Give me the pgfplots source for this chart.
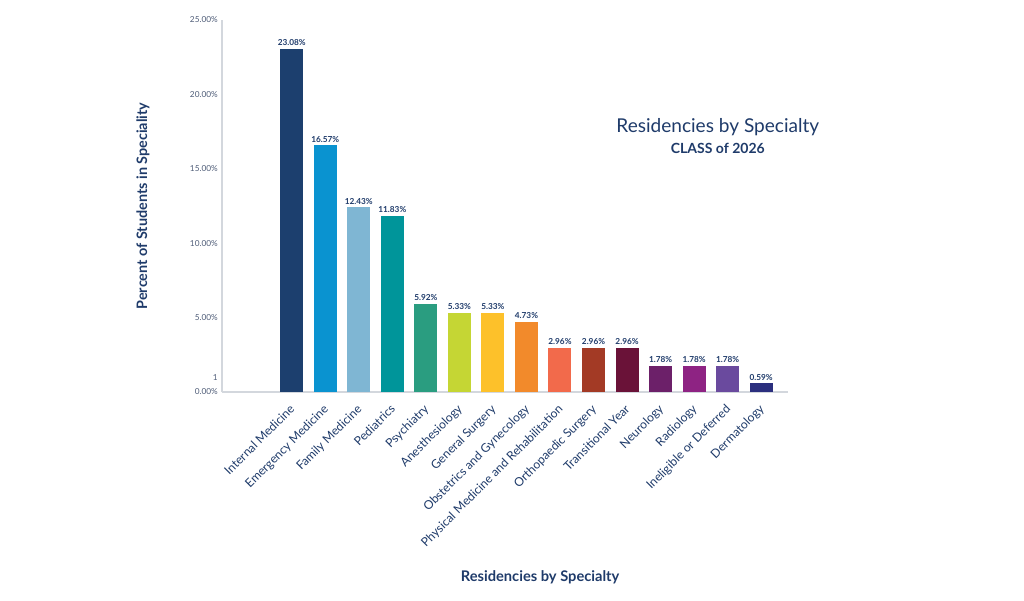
\documentclass[border=0pt]{standalone}
\usepackage{pgfplots}
\pgfplotsset{compat=1.18}
\usepackage{fontspec}
\setmainfont{Lato}
\definecolor{navy}{HTML}{1F3B6A}
\definecolor{tickgray}{HTML}{4F5D78}
\definecolor{axgray}{HTML}{D3D7DD}
\definecolor{c1}{HTML}{1C3F6E}
\definecolor{c2}{HTML}{0A93D0}
\definecolor{c3}{HTML}{7FB6D3}
\definecolor{c4}{HTML}{00959A}
\definecolor{c5}{HTML}{2A9D80}
\definecolor{c6}{HTML}{C5D634}
\definecolor{c7}{HTML}{FDC12A}
\definecolor{c8}{HTML}{F28A2B}
\definecolor{c9}{HTML}{F26A4B}
\definecolor{c10}{HTML}{A33A25}
\definecolor{c11}{HTML}{6A1238}
\definecolor{c12}{HTML}{6C2069}
\definecolor{c13}{HTML}{8E2383}
\definecolor{c14}{HTML}{6A4A9E}
\definecolor{c15}{HTML}{2B2F7E}
\begin{document}
\begin{tikzpicture}
\path[use as bounding box] (0pt,0pt) rectangle (768pt,450pt);
\begin{axis}[
  at={(166.5pt,156pt)}, anchor=south west,
  scale only axis, width=424.5pt, height=279pt,
  xmin=-2.08, xmax=14.8, ymin=0, ymax=25,
  ybar, bar width=17.25pt, bar shift=0pt,
  axis x line*=bottom, axis y line*=left,
  axis line style={axgray, line width=0.8pt},
  separate axis lines,
  every outer x axis line/.append style={-}, every outer y axis line/.append style={-},
  major tick length=0pt,
  xtick={0,...,14},
  xticklabels={Internal Medicine,Emergency Medicine,Family Medicine,Pediatrics,Psychiatry,Anesthesiology,General Surgery,Obstetrics and Gynecology,Physical Medicine and Rehabilitation,Orthopaedic Surgery,Transitional Year,Neurology,Radiology,Ineligible or Deferred,Dermatology},
  xticklabel style={rotate=45, anchor=north east, font=\fontsize{9.1}{10}\selectfont, text=navy, inner sep=1pt, yshift=-3.5pt, xshift=-6.5pt},
  ytick={0,1,5,10,15,20,25},
  yticklabels={0.00\%,1,5.00\%,10.00\%,15.00\%,20.00\%,25.00\%},
  yticklabel style={font=\fontsize{6.2}{7}\selectfont, text=tickgray, inner sep=1pt, xshift=-2pt},
  /pgf/number format/assume math mode=true,
  nodes near coords={\pgfmathprintnumber[fixed,fixed zerofill,precision=2]{\pgfplotspointmeta}\%},
  every node near coord/.append style={font=\bfseries\fontsize{6.2}{7}\selectfont, text=navy, inner sep=2pt},
  clip=false,
]
\addplot[fill=c1, draw=none] coordinates {(0,23.08)};
\addplot[fill=c2, draw=none] coordinates {(1,16.57)};
\addplot[fill=c3, draw=none] coordinates {(2,12.43)};
\addplot[fill=c4, draw=none] coordinates {(3,11.83)};
\addplot[fill=c5, draw=none] coordinates {(4,5.92)};
\addplot[fill=c6, draw=none] coordinates {(5,5.33)};
\addplot[fill=c7, draw=none] coordinates {(6,5.33)};
\addplot[fill=c8, draw=none] coordinates {(7,4.73)};
\addplot[fill=c9, draw=none] coordinates {(8,2.96)};
\addplot[fill=c10, draw=none] coordinates {(9,2.96)};
\addplot[fill=c11, draw=none] coordinates {(10,2.96)};
\addplot[fill=c12, draw=none] coordinates {(11,1.78)};
\addplot[fill=c13, draw=none] coordinates {(12,1.78)};
\addplot[fill=c14, draw=none] coordinates {(13,1.78)};
\addplot[fill=c15, draw=none] coordinates {(14,0.59)};
\node[font=\fontsize{14.3}{16}\selectfont, text=navy] at (axis description cs:0.876,0.712) {Residencies by Specialty};
\node[font=\bfseries\fontsize{10.5}{12}\selectfont, text=navy] at (axis description cs:0.876,0.656) {CLASS of 2026};
\node[font=\bfseries\fontsize{10.8}{12}\selectfont, text=navy, rotate=90] at (axis description cs:-0.1396,0.5) {Percent of Students in Speciality};
\node[font=\bfseries\fontsize{11}{12}\selectfont, text=navy] at (axis description cs:0.562,-0.497) {Residencies by Specialty};
\end{axis}
\end{tikzpicture}
\end{document}
